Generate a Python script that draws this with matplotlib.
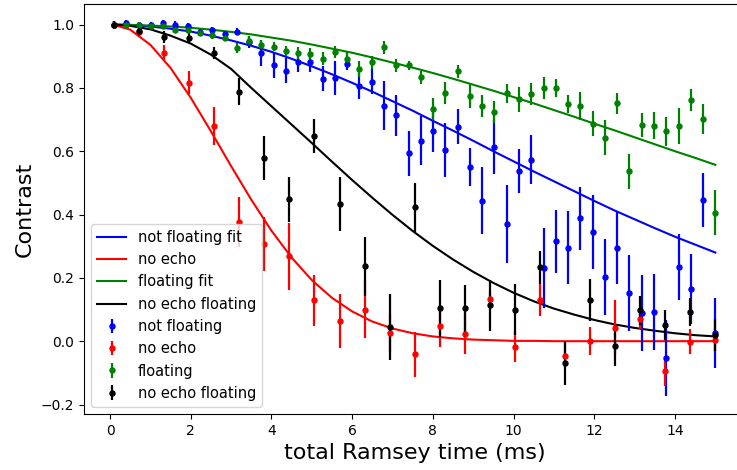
import numpy as np
import matplotlib
matplotlib.use("Agg")
import matplotlib.pyplot as plt

# ---- data ----
t_float = np.linspace(0.1, 15, 50)      # not floating / floating sample times (ms)
t_echo = np.linspace(0.1, 15, 25)       # no echo / no echo floating sample times (ms)

not_floating = [1.0, 1.005, 0.998, 0.998, 1.005, 1.0, 0.995, 0.975, 0.982, 0.971,
                0.978, 0.945, 0.91, 0.871, 0.854, 0.881, 0.881, 0.829, 0.831, 0.876,
                0.806, 0.82, 0.744, 0.714, 0.593, 0.633, 0.664, 0.605, 0.677, 0.55,
                0.444, 0.614, 0.37, 0.537, 0.573, 0.231, 0.315, 0.295, 0.388, 0.345,
                0.203, 0.295, 0.151, 0.088, 0.092, -0.053, 0.233, 0.164, 0.447, 0.026]
not_floating_err = [0.01, 0.01, 0.01, 0.01, 0.01, 0.01, 0.01, 0.01, 0.01, 0.01,
                    0.01, 0.02, 0.04, 0.04, 0.04, 0.03, 0.03, 0.04, 0.055, 0.02,
                    0.04, 0.04, 0.078, 0.065, 0.07, 0.077, 0.066, 0.085, 0.055, 0.06,
                    0.106, 0.085, 0.122, 0.07, 0.077, 0.127, 0.1, 0.115, 0.1, 0.117,
                    0.12, 0.115, 0.12, 0.12, 0.12, 0.12, 0.104, 0.11, 0.085, 0.11]

floating = [1.0, 0.998, 0.998, 0.995, 0.995, 0.983, 0.982, 0.973, 0.966, 0.959,
            0.926, 0.948, 0.937, 0.93, 0.916, 0.91, 0.907, 0.892, 0.913, 0.892,
            0.86, 0.881, 0.928, 0.871, 0.871, 0.833, 0.733, 0.783, 0.852, 0.775,
            0.743, 0.725, 0.783, 0.764, 0.781, 0.799, 0.799, 0.748, 0.744, 0.687,
            0.643, 0.752, 0.537, 0.683, 0.681, 0.663, 0.681, 0.762, 0.702, 0.406]
floating_err = [0.01, 0.01, 0.01, 0.01, 0.01, 0.01, 0.01, 0.01, 0.01, 0.01,
                0.015, 0.015, 0.015, 0.015, 0.015, 0.02, 0.02, 0.02, 0.02, 0.02,
                0.025, 0.02, 0.02, 0.02, 0.015, 0.02, 0.035, 0.035, 0.02, 0.04,
                0.035, 0.035, 0.03, 0.04, 0.035, 0.035, 0.028, 0.028, 0.044, 0.04,
                0.055, 0.033, 0.055, 0.038, 0.042, 0.045, 0.057, 0.034, 0.047, 0.07]

no_echo = [1.0, 0.975, 0.91, 0.817, 0.68, 0.376, 0.307, 0.268, 0.129, 0.063,
           0.1, 0.026, -0.042, 0.048, 0.024, 0.134, -0.017, 0.13, -0.046, 0.0,
           0.042, 0.069, -0.095, -0.002, 0.003]
no_echo_err = [0.01, 0.015, 0.025, 0.037, 0.06, 0.08, 0.085, 0.105, 0.08, 0.085,
               0.09, 0.06, 0.07, 0.065, 0.065, 0.025, 0.05, 0.05, 0.04, 0.045,
               0.087, 0.03, 0.048, 0.04, 0.035]

no_echo_floating = [1.0, 0.979, 0.961, 0.958, 0.91, 0.788, 0.579, 0.448, 0.648, 0.433,
                    0.236, 0.044, 0.423, 0.104, 0.104, 0.113, 0.1, 0.233, -0.069, 0.13,
                    -0.014, 0.097, 0.05, 0.092, 0.019]
no_echo_floating_err = [0.01, 0.015, 0.02, 0.015, 0.02, 0.042, 0.07, 0.07, 0.055, 0.085,
                        0.094, 0.105, 0.077, 0.09, 0.074, 0.08, 0.08, 0.053, 0.068, 0.065,
                        0.065, 0.045, 0.047, 0.045, 0.05]

# fit curves, read at these times
fit_t = [0.1, 0.5, 1.0, 1.5, 2.0, 2.5, 3.0, 3.5, 4.0, 4.5, 5.0, 5.5, 6.0, 6.5, 7.0, 7.5,
         8.0, 8.5, 9.0, 9.5, 10.0, 10.5, 11.0, 11.5, 12.0, 12.5, 13.0, 13.5, 14.0, 14.5, 15.0]
not_floating_fit = [1.0, 0.999, 0.994, 0.987, 0.978, 0.965, 0.950, 0.933, 0.914, 0.892,
                    0.868, 0.843, 0.816, 0.788, 0.758, 0.728, 0.696, 0.665, 0.633, 0.600,
                    0.568, 0.536, 0.505, 0.474, 0.443, 0.413, 0.385, 0.357, 0.330, 0.305, 0.280]
no_echo_fit = [0.999, 0.984, 0.936, 0.863, 0.769, 0.663, 0.553, 0.447, 0.349, 0.264,
               0.193, 0.137, 0.094, 0.062, 0.040, 0.025, 0.015, 0.009, 0.005, 0.003,
               0.001, 0.001, 0.0, 0.0, 0.0, 0.0, 0.0, 0.0, 0.0, 0.0, 0.0]
floating_fit = [1.0, 0.999, 0.997, 0.994, 0.990, 0.984, 0.977, 0.969, 0.959, 0.949,
                0.937, 0.924, 0.911, 0.896, 0.880, 0.864, 0.847, 0.829, 0.810, 0.791,
                0.771, 0.751, 0.730, 0.709, 0.687, 0.666, 0.644, 0.622, 0.600, 0.579, 0.557]
no_echo_floating_fit = [1.0, 0.996, 0.985, 0.965, 0.940, 0.905, 0.860, 0.800, 0.742, 0.684,
                        0.626, 0.567, 0.509, 0.453, 0.399, 0.348, 0.301, 0.258, 0.219, 0.184,
                        0.153, 0.126, 0.103, 0.084, 0.067, 0.053, 0.042, 0.033, 0.025, 0.019, 0.015]

# ---- figure ----
fig = plt.figure(figsize=(7.37, 4.70), dpi=100)
ax = fig.add_axes([84 / 737, 56 / 470, (745.4 - 84) / 737, (466 - 56) / 470])

lw = 1.5
ax.plot(fit_t, not_floating_fit, color='b', lw=lw, label='not floating fit')
ax.plot(fit_t, no_echo_fit, color='r', lw=lw, label='no echo')
ax.plot(fit_t, floating_fit, color='g', lw=lw, label='floating fit')
ax.plot(fit_t, no_echo_floating_fit, color='k', lw=lw, label='no echo floating')

eb = dict(fmt='o', markersize=3.6, elinewidth=1.6, capsize=0)
ax.errorbar(t_float, not_floating, yerr=not_floating_err, color='b', label='not floating', **eb)
ax.errorbar(t_echo, no_echo, yerr=no_echo_err, color='r', label='no echo', **eb)
ax.errorbar(t_float, floating, yerr=floating_err, color='g', label='floating', **eb)
ax.errorbar(t_echo, no_echo_floating, yerr=no_echo_floating_err, color='k',
            label='no echo floating', **eb)

ax.set_xlim(-0.645, 15.745)
ax.set_ylim(-0.23, 1.065)
ax.set_xticks([0, 2, 4, 6, 8, 10, 12, 14])
ax.set_yticks([-0.2, 0.0, 0.2, 0.4, 0.6, 0.8, 1.0])
ax.tick_params(labelsize=10)
ax.set_xlabel('total Ramsey time (ms)', fontsize=16)
ax.set_ylabel('Contrast', fontsize=16)
ax.legend(loc='lower left', fontsize=10.5)

fig.savefig('out.png', dpi=100)
